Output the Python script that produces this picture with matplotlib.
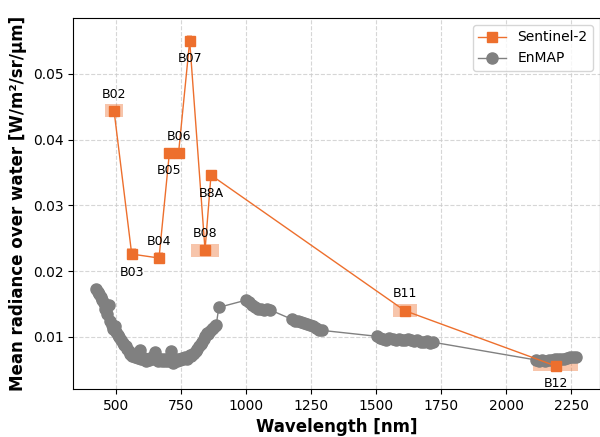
import numpy as np
import matplotlib.pyplot as plt
from matplotlib.patches import Rectangle

## Sentinel-2 bands: centre wavelength, bandwidth, radiance, spread
s2_bands = ["B02", "B03", "B04", "B05", "B06", "B07", "B08", "B8A", "B11", "B12"]
s2_wl = [492, 560, 665, 705, 740, 783, 842, 865, 1610, 2190]
s2_width = [66, 36, 31, 15, 15, 20, 106, 21, 91, 175]
s2_rad = [0.0444, 0.0226, 0.0220, 0.0380, 0.0379, 0.0550, 0.0232, 0.0346, 0.0140, 0.0056]
s2_err = [0.0010, 0.0009, 0.0009, 0.0008, 0.0008, 0.0009, 0.0010, 0.0008, 0.0010, 0.0008]
s2_label_up = [True, False, True, False, True, False, True, False, True, False]

## EnMAP spectrum over water
enmap_wl = [423, 429, 435, 441, 447, 453, 459, 465, 471, 477, 483, 489, 495, 501, 507,
            513, 519, 525, 531, 537, 543, 549, 555, 561, 567, 573, 579, 585, 591, 597,
            603, 609, 615, 621, 627, 633, 639, 645, 651, 657, 663, 669, 675, 681, 687,
            693, 699, 705, 711, 717, 723, 729, 735, 741, 747, 753, 759, 765, 771, 777,
            783, 789, 795, 801, 807, 813, 819, 825, 831, 837, 843, 849, 855, 861, 867,
            873, 879, 885, 895,
            1000, 1012, 1023, 1035, 1046, 1058, 1070, 1081, 1093,
            1175, 1187, 1199, 1211, 1222, 1234, 1246, 1257, 1269, 1280, 1292,
            1503, 1515, 1527, 1539, 1551, 1563, 1575, 1587, 1599, 1611, 1623, 1635,
            1647, 1659, 1671, 1683, 1695, 1707, 1719,
            2115, 2127, 2139, 2151, 2163, 2175, 2187, 2199, 2211, 2223, 2235, 2247,
            2259, 2270]
enmap_rad = [0.0173, 0.0169, 0.0165, 0.0160, 0.0156, 0.0151, 0.0142, 0.0135, 0.0149, 0.0124,
             0.0118, 0.0112, 0.0116, 0.0108, 0.0103, 0.0100, 0.0096, 0.0091, 0.0088, 0.0086,
             0.0081, 0.0078, 0.0074, 0.0071, 0.0073, 0.0069, 0.0071, 0.0068, 0.0080, 0.0067,
             0.0066, 0.0068, 0.0064, 0.0066, 0.0065, 0.0068, 0.0070, 0.0066, 0.0077, 0.0068,
             0.0064, 0.0067, 0.0063, 0.0066, 0.0064, 0.0067, 0.0063, 0.0065, 0.0078, 0.0061,
             0.0064, 0.0066, 0.0063, 0.0066, 0.0065, 0.0068, 0.0066, 0.0069, 0.0067, 0.0070,
             0.0072, 0.0071, 0.0074, 0.0076, 0.0079, 0.0082, 0.0086, 0.0089, 0.0092, 0.0097,
             0.0102, 0.0106, 0.0104, 0.0109, 0.0112, 0.0114, 0.0117, 0.0118, 0.0145,
             0.0156, 0.0153, 0.0149, 0.0146, 0.0142, 0.0143, 0.0141, 0.0143, 0.0141,
             0.0127, 0.0125, 0.0124, 0.0122, 0.0121, 0.0119, 0.0118, 0.0116, 0.0113, 0.0111, 0.0110,
             0.0101, 0.0098, 0.0097, 0.0096, 0.0099, 0.0097, 0.0095, 0.0097, 0.0096, 0.0095,
             0.0097, 0.0095, 0.0094, 0.0095, 0.0093, 0.0092, 0.0094, 0.0091, 0.0092,
             0.0065, 0.0064, 0.0065, 0.0064, 0.0065, 0.0065, 0.0066, 0.0066, 0.0067, 0.0067,
             0.0068, 0.0069, 0.0070, 0.0070]

orange = "#ED6F2D"
grey = "#808080"

fig = plt.figure(figsize=(6, 4.37), dpi=100)
ax = fig.add_axes([0.122, 0.110, 0.878, 0.849])

##shaded boxes: bandwidth x spread
for wl, w, r, e in zip(s2_wl, s2_width, s2_rad, s2_err):
    ax.add_patch(Rectangle((wl - w / 2, r - e), w, 2 * e, facecolor=orange,
                           alpha=0.4, edgecolor="none", zorder=2))

ax.plot(s2_wl, s2_rad, "-s", color=orange, lw=1, markersize=7.5, label="Sentinel-2", zorder=4)
ax.plot(enmap_wl, enmap_rad, "-o", color=grey, lw=1, markersize=8, label="EnMAP", zorder=3)

for name, wl, r, up in zip(s2_bands, s2_wl, s2_rad, s2_label_up):
    ax.annotate(name, (wl, r), xytext=(0, 12 if up else -13), textcoords="offset points",
                ha="center", va="center", fontsize=9, zorder=5)

ax.set_xlim(335, 2361)
ax.set_ylim(0.0021, 0.0585)
ax.set_xticks([500, 750, 1000, 1250, 1500, 1750, 2000, 2250])
ax.set_yticks([0.01, 0.02, 0.03, 0.04, 0.05])
ax.tick_params(labelsize=10)
ax.grid(True, linestyle="--", color="#cccccc", alpha=0.8)
ax.set_axisbelow(True)
ax.set_xlabel("Wavelength [nm]", fontsize=12, fontweight="bold")
ax.set_ylabel("Mean radiance over water [W/m²/sr/µm]", fontsize=12, fontweight="bold")
ax.legend(loc="upper right", fontsize=10)

fig.savefig("out.png", dpi=100)
